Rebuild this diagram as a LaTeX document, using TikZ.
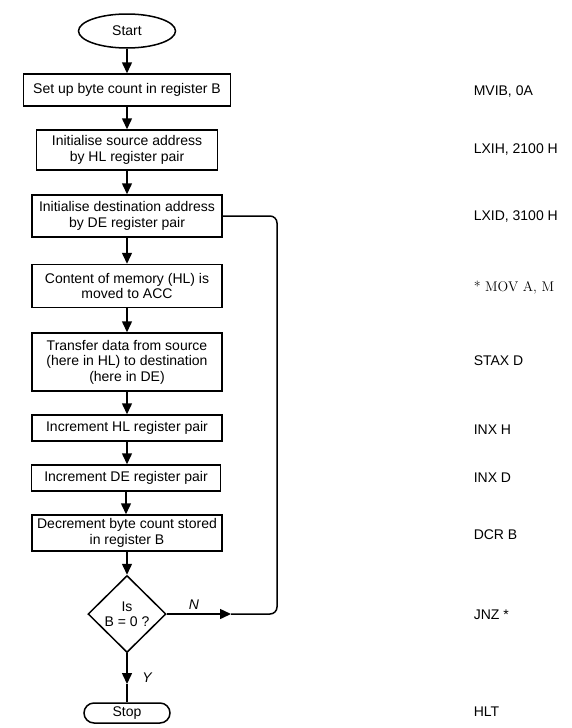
\documentclass[tikz,border=0pt]{standalone}
\usepackage{fontspec}
\setsansfont{Liberation Sans}
\usepackage{tikz}
\usetikzlibrary{shapes.geometric, shapes.misc, arrows.meta}

\begin{document}
\begin{tikzpicture}[x=1pt, y=-1pt, line width=1.5pt,
		font=\sffamily\fontsize{14}{15.5}\selectfont,
		procbox/.style = {draw, align=center, inner sep=2pt, minimum width=190pt},
		startnode/.style = {draw, ellipse, inner sep=0pt, minimum width=97pt, minimum height=34pt},
		stopnode/.style = {draw, rounded rectangle, inner sep=0pt, minimum width=86pt, minimum height=20pt},
		decnode/.style = {draw, diamond, align=center, inner sep=0pt, minimum width=78pt, minimum height=77pt},
		asmlabel/.style = {anchor=west, inner sep=0pt},
		flowarrow/.style = {-{Triangle[length=11pt, width=10pt]}}]
					\def\xLBL{473};

					\useasboundingbox (0,0) rectangle (571,728);

					% flow chart boxes
					\node [startnode] (start) at (127,31) {Start};
					\node [procbox, minimum width=207pt, minimum height=32pt] (setB) at (127,90) {Set up byte count in register B};
					\node [procbox, minimum width=181pt, minimum height=40pt] (srcHL) at (127,150) {Initialise source address\\by HL register pair};
					\node [procbox, minimum height=42pt] (dstDE) at (127,216) {Initialise destination address\\by DE register pair};
					\node [procbox, minimum height=43pt] (movA) at (127,286) {Content of memory (HL) is\\moved to ACC};
					\node [procbox, minimum height=58pt] (stax) at (127,362) {Transfer data from source\\(here in HL) to destination\\(here in DE)};
					\node [procbox, minimum height=26pt] (inxH) at (127,428) {Increment HL register pair};
					\node [procbox, minimum width=189pt, minimum height=26pt] (inxD) at (126,478) {Increment DE register pair};
					\node [procbox, minimum height=36pt] (dcrB) at (127,533) {Decrement byte count stored\\in register B};
					\node [decnode] (isZero) at (127,614) {Is\\B = 0 ?};
					\node [stopnode] (stop) at (127,713) {Stop};

					\coordinate (nTip) at (231,614);
					\coordinate (loopR) at (277,614);
					\coordinate (yTip) at (127,684);

					\begin{scope}[flowarrow]
						\draw (start) -- (start |- setB.north);
						\draw (setB) -- (setB |- srcHL.north);
						\draw (srcHL) -- (srcHL |- dstDE.north);
						\draw (dstDE) -- (dstDE |- movA.north);
						\draw (movA) -- (movA |- stax.north);
						\draw (stax) -- (stax |- inxH.north);
						\draw (inxH) -- (inxH |- inxD.north);
						\draw (inxD) -- (inxD |- dcrB.north);
						\draw (dcrB) -- (dcrB |- isZero.north);
						\draw (isZero.east) -- (nTip);
						\draw (isZero.south) -- (yTip);
					\end{scope}

					\begin{scope}
						\draw [rounded corners=7pt] (nTip) -- (loopR) |- (dstDE.east);
						\draw (yTip) -- (stop.north);
					\end{scope}

					\node [font=\sffamily\itshape\fontsize{14}{15.5}\selectfont] (nLbl) at (194,605) {N};
					\node [font=\sffamily\itshape\fontsize{14}{15.5}\selectfont] (yLbl) at (147,678) {Y};

					% assembly code
					\node [asmlabel] (mviLbl) at (\xLBL,92) {MVIB, 0A};
					\node [asmlabel] (lxihLbl) at (\xLBL,150) {LXIH, 2100 H};
					\node [asmlabel] (lxidLbl) at (\xLBL,217) {LXID, 3100 H};
					\node [asmlabel, font=\rmfamily\fontsize{14}{15.5}\selectfont] (movLbl) at (\xLBL,288) {* MOV A, M};
					\node [asmlabel] (staxLbl) at (\xLBL,361) {STAX D};
					\node [asmlabel] (inxhLbl) at (\xLBL,430) {INX H};
					\node [asmlabel] (inxdLbl) at (\xLBL,478) {INX D};
					\node [asmlabel] (dcrLbl) at (\xLBL,535) {DCR B};
					\node [asmlabel] (jnzLbl) at (\xLBL,615) {JNZ *};
					\node [asmlabel] (hltLbl) at (\xLBL,712) {HLT};
				\end{tikzpicture}
\end{document}
